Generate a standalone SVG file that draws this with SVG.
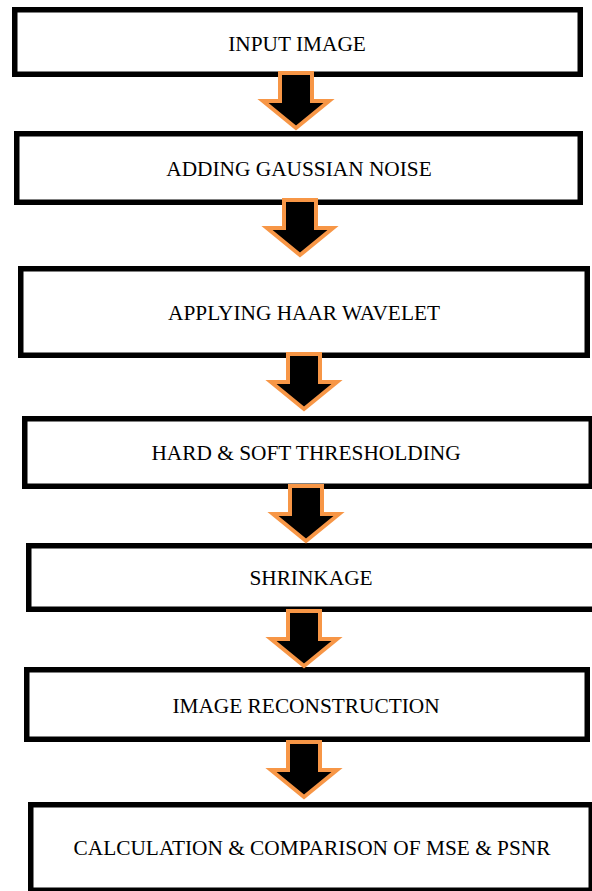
<svg xmlns="http://www.w3.org/2000/svg" width="592" height="891" viewBox="0 0 592 891">
  <style>
    .box { fill: #ffffff; stroke: #000000; stroke-width: 5.5; }
    .label { font-family: "Liberation Serif", "Times New Roman", serif; font-size: 21.33px; fill: #000000; text-anchor: middle; }
    .flow { fill: #000000; stroke: #F79646; stroke-width: 4; stroke-linejoin: miter; }
  </style>
  <defs>
    <!-- block arrow pointing down; origin at top centre of the shaft -->
    <path id="down-arrow" class="flow" d="M -16,2 H 16 V 30 H 33 L 0,57 L -33,30 H -16 Z"/>
  </defs>

  <rect x="0" y="0" width="592" height="891" fill="#ffffff"/>

  <g id="nodes">
    <g id="input-image">
      <rect class="box" x="14.75" y="9.75" width="565.5" height="64.5"/>
      <text class="label" x="297" y="51">INPUT IMAGE</text>
    </g>
    <g id="gaussian-noise">
      <rect class="box" x="16.75" y="133.75" width="563.5" height="68.5"/>
      <text class="label" x="299" y="176">ADDING GAUSSIAN NOISE</text>
    </g>
    <g id="haar-wavelet">
      <rect class="box" x="20.75" y="268.75" width="566.5" height="86.5"/>
      <text class="label" x="304" y="320">APPLYING HAAR WAVELET</text>
    </g>
    <g id="thresholding">
      <rect class="box" x="24.75" y="418.75" width="566.5" height="67.5"/>
      <text class="label" x="306" y="460">HARD &amp; SOFT THRESHOLDING</text>
    </g>
    <g id="shrinkage">
      <rect class="box" x="28.75" y="545.75" width="566.5" height="63.5"/>
      <text class="label" x="311" y="585">SHRINKAGE</text>
    </g>
    <g id="reconstruction">
      <rect class="box" x="26.75" y="669.75" width="560.5" height="69.5"/>
      <text class="label" x="306" y="713">IMAGE RECONSTRUCTION</text>
    </g>
    <g id="mse-psnr">
      <rect class="box" x="30.75" y="804.75" width="560.5" height="85.5"/>
      <text class="label" x="312" y="855">CALCULATION &amp; COMPARISON OF MSE &amp; PSNR</text>
    </g>
  </g>

  <g id="connectors">
    <use href="#down-arrow" x="296" y="71"/>
    <use href="#down-arrow" x="300" y="198"/>
    <use href="#down-arrow" x="304" y="352"/>
    <use href="#down-arrow" x="306" y="484"/>
    <use href="#down-arrow" x="304" y="609"/>
    <use href="#down-arrow" x="304" y="740"/>
  </g>
</svg>
